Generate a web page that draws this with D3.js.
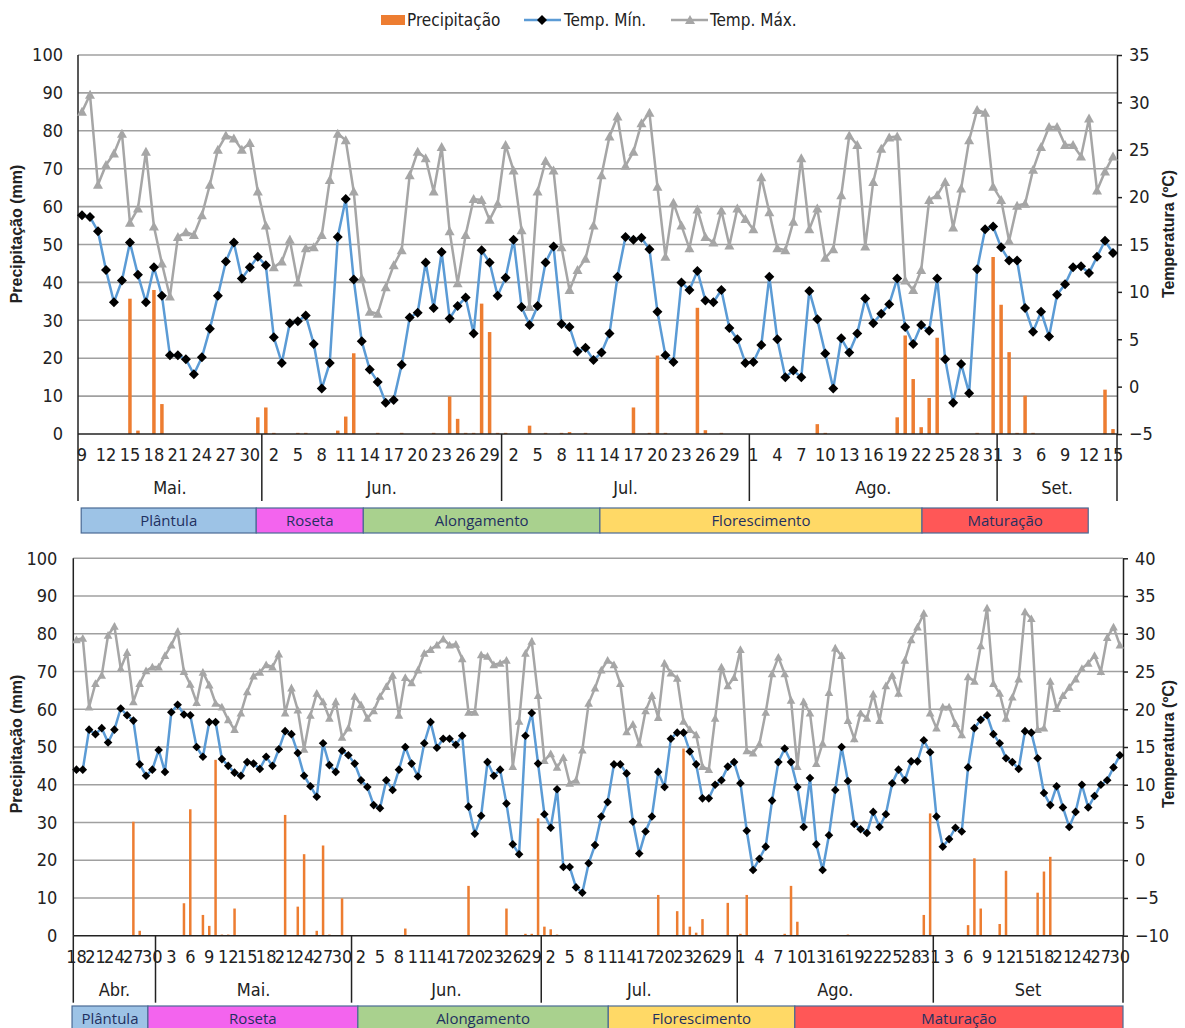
<!DOCTYPE html>
<html>
<head>
<meta charset="utf-8">
<script src="https://cdn.jsdelivr.net/npm/d3@7"></script>
<style>
body { margin: 0; background: #fff; }
svg { display: block; }
</style>
</head>
<body>
<script>
// TOP PANEL: 9 May - 15 Sep, one value per day
var topTmin = [18.1,17.9,16.4,12.3,8.9,11.2,15.2,11.8,8.9,12.6,
  9.6,3.3,3.3,2.9,1.3,3.1,6.1,9.6,13.2,15.2,
  11.4,12.6,13.7,12.8,5.2,2.5,6.7,6.9,7.5,4.5,
  -0.2,2.5,15.8,19.8,11.3,4.8,1.8,0.5,-1.7,-1.4,
  2.3,7.3,7.8,13.1,8.3,14.2,7.2,8.5,9.4,5.6,
  14.4,13.1,9.6,11.5,15.5,8.4,6.5,8.5,13.1,14.8,
  6.6,6.3,3.7,4.1,2.8,3.6,5.6,11.6,15.8,15.5,
  15.7,14.5,7.9,3.3,2.6,11.0,10.2,12.2,9.1,8.9,
  10.2,6.2,5.0,2.5,2.6,4.4,11.6,5.0,1.0,1.7,
  1.0,10.1,7.1,3.5,-0.2,5.1,3.6,5.6,9.3,6.7,
  7.7,8.7,11.4,6.3,4.5,6.5,5.9,11.4,2.9,-1.7,
  2.4,-0.7,12.4,16.6,16.9,14.7,13.3,13.3,8.3,5.8,
  7.9,5.3,9.7,10.8,12.6,12.7,12.0,13.7,15.4,14.1];
var topTmax = [29.0,30.8,21.3,23.4,24.6,26.7,17.3,18.8,24.8,16.9,
  13.0,9.5,15.8,16.3,16.0,18.1,21.3,25.0,26.5,26.2,
  25.0,25.7,20.6,17.0,12.6,13.2,15.5,11.0,14.6,14.7,
  16.0,21.8,26.7,26.0,20.6,11.4,7.9,7.7,10.5,12.8,
  14.4,22.3,24.8,24.1,20.6,25.3,16.4,10.9,16.0,19.8,
  19.7,17.6,19.3,25.5,22.8,16.5,8.4,20.6,23.8,22.8,
  14.7,10.2,12.3,13.5,17.0,22.3,26.4,28.5,23.3,24.8,
  27.8,28.9,21.1,13.7,19.4,17.0,14.6,18.7,15.8,15.2,
  18.6,14.9,18.8,17.7,16.6,22.1,18.4,14.6,14.4,17.4,
  24.1,16.6,18.8,13.6,14.5,20.2,26.5,25.5,14.8,21.6,
  25.1,26.3,26.4,11.2,10.2,12.3,19.7,20.2,21.6,16.8,
  20.9,26.0,29.2,28.9,21.1,19.7,15.4,19.1,19.3,22.9,
  25.3,27.4,27.4,25.5,25.5,24.3,28.3,20.7,22.7,24.3];
var topPrecip = [0,0,0,0,0,0,35.7,0.9,0,38.0,
  7.9,0,0,0,0,0,0,0,0,0,
  0,0,4.4,7.0,0.3,0,0,0.3,0.3,0,
  0,0,0.9,4.6,21.3,0,0,0.3,0,0,
  0.3,0,0,0,0.3,0,9.9,4.0,0.3,0.3,
  34.4,26.9,0.3,0.3,0,0,2.2,0,0.3,0,
  0.3,0.5,0,0.3,0,0,0,0,0,7.0,
  0,0.3,20.7,0.3,0,0,0,33.3,1.0,0,
  0.3,0,0,0,0,0,0,0,0,0,
  0,0,2.6,0.3,0,0,0,0,0,0,
  0,0,4.4,26.0,14.5,1.8,9.5,25.4,0,0,
  0,0,0.3,0,46.7,34.1,21.6,0.3,10.1,0.3,
  0,0,0,0,0,0,0,0,11.7,1.3];
var topTickLabels = ["9","12","15","18","21","24","27","30","2","5","8","11","14","17","20","23","26","29",
  "2","5","8","11","14","17","20","23","26","29","1","4","7","10","13","16","19","22","25","28","31",
  "3","6","9","12","15"];
var topMonthLabels = ["Mai.","Jun.","Jul.","Ago.","Set."];
var topMonthStarts = [0,23,53,84,115];
var topPhaseBounds = [0.4,22.3,35.7,65.3,105.6,126.4];

// BOTTOM PANEL: 18 Apr - 30 Sep
var botTmin = [12.0,12.0,17.3,16.7,17.5,15.6,17.3,20.1,19.2,18.5,
  12.7,11.2,12.0,14.6,11.7,19.6,20.6,19.3,19.2,15.0,
  13.7,18.3,18.3,13.4,12.5,11.6,11.2,13.0,12.8,12.1,
  13.7,12.5,14.7,17.1,16.7,14.2,11.2,9.8,8.4,15.5,
  12.6,11.7,14.5,13.9,12.8,10.6,9.7,7.3,6.9,10.6,
  9.3,12.0,15.0,12.8,11.1,15.5,18.3,14.9,16.1,16.1,
  15.3,16.5,7.1,3.5,5.9,13.0,11.2,12.0,7.5,2.1,
  0.8,16.5,19.5,12.8,6.1,4.3,9.4,-0.9,-0.9,-3.6,
  -4.3,-0.4,2.0,5.8,7.7,12.7,12.7,11.5,5.1,0.9,
  3.8,5.8,11.7,9.7,16.1,16.9,16.9,14.4,12.7,8.2,
  8.2,10.0,10.6,12.4,13.0,10.2,3.9,-1.3,0.2,1.8,
  7.9,13.0,14.8,13.0,9.7,4.4,10.9,2.1,-1.3,3.3,
  9.3,15.0,10.5,4.8,4.1,3.6,6.4,4.4,6.1,10.2,
  12.0,10.6,13.1,13.1,15.9,14.3,5.8,1.8,2.8,4.3,
  3.8,12.3,17.5,18.6,19.2,16.7,15.5,13.5,13.0,12.1,
  17.1,16.9,13.5,8.9,7.3,9.8,7.0,4.4,6.4,10.0,
  7.0,8.5,10.0,10.6,12.3,13.9];
var botTmax = [29.2,29.4,20.3,23.4,24.5,29.8,31.0,25.4,27.5,21.0,
  23.4,25.1,25.6,25.6,27.1,28.5,30.3,25.0,23.3,20.9,
  24.9,23.2,20.8,20.3,18.6,17.3,19.5,22.3,24.4,24.9,
  25.9,25.6,27.3,19.5,22.8,19.9,14.7,19.2,22.1,21.0,
  18.8,21.0,16.3,17.5,21.7,20.6,18.8,19.8,21.7,23.0,
  24.5,19.2,24.2,23.5,25.2,27.4,27.9,28.5,29.3,28.5,
  28.6,26.7,19.6,19.6,27.2,27.0,25.9,26.1,26.5,12.4,
  18.4,27.4,29.0,21.8,13.2,14.1,12.3,13.6,10.2,10.6,
  14.6,20.8,22.8,25.2,26.5,25.9,23.4,17.0,18.0,15.4,
  19.8,21.8,18.9,26.1,24.8,24.1,18.4,17.3,16.6,12.4,
  12.0,18.8,25.6,23.1,24.2,27.9,14.5,14.2,15.4,19.6,
  24.7,26.9,24.7,21.2,12.4,21.0,19.5,12.8,15.5,22.2,
  28.1,27.1,18.5,16.1,19.5,18.8,22.0,18.5,23.1,24.5,
  22.1,26.5,29.2,30.9,32.7,19.5,17.5,20.3,20.3,18.1,
  16.6,24.3,23.7,28.4,33.4,23.4,22.1,18.8,21.6,24.0,
  32.9,32.0,17.3,17.5,23.7,20.1,21.8,22.9,24.0,25.4,
  26.1,27.1,25.0,29.5,30.9,28.5];
var botPrecip = [0,0,0,0,0,0,0,0,0,30.2,
  1.3,0,0,0,0,0,0,8.6,33.5,0,
  5.5,2.6,46.6,0.3,0.3,7.2,0,0,0,0,
  0,0,0,32.0,0,7.7,21.6,0,1.3,23.9,
  0.3,0,9.9,0,0,0,0,0,0,0,
  0,0,1.9,0,0,0,0,0,0,0,
  0,0,13.2,0,0,0,0,0,7.2,0,
  0,0.5,0.5,31.1,2.4,1.7,0.3,0,0,0,
  0,0,0,0,0,0,0,0,0,0,
  0,0,10.8,0,0,6.5,49.6,2.4,0.8,4.4,
  0,0,0,8.7,0,0.5,10.8,0,0,0,
  0,0,0.5,13.2,3.7,0,0,0,0,0,
  0,0,0.3,0,0,0,0,0,0,0,
  0,0,0,0,5.5,32.4,0,0,0,0,
  0,2.8,20.5,7.2,0,0,3.1,17.2,0,0,
  0,0,11.4,17.0,20.9,0,0,0,0,0,
  0,0,0,0,0,0];
var botTickLabels = ["18","21","24","27","30","3","6","9","12","15","18","21","24","27","30",
  "2","5","8","11","14","17","20","23","26","29","2","5","8","11","14","17","20","23","26","29",
  "1","4","7","10","13","16","19","22","25","28","31","3","6","9","12","15","18","21","24","27","30"];
var botMonthLabels = ["Abr.","Mai.","Jun.","Jul.","Ago.","Set"];
var botMonthStarts = [0,13,44,74,105,136];
var botPhaseBounds = [-0.2,11.8,45.0,84.6,114.1,166];

var phaseNames = ["Plântula","Roseta","Alongamento","Florescimento","Maturação"];
var phaseColors = ["#9dc3e6","#f364ee","#a9d18e","#ffd966","#ff5757"];

var NARROW = "'Liberation Sans Narrow','Arial Narrow','DejaVu Sans Condensed',sans-serif";
var ARIAL = "'Liberation Sans',Arial,sans-serif";

//MAIN SVG
var svg = d3.select("body").append("svg").attr("width", 1185).attr("height", 1028).style("background", "#fff");

//LEGEND
var leg = svg.append("g").attr("font-family", NARROW).attr("font-size", 17).attr("fill", "#222");
leg.append("rect").attr("x", 381).attr("y", 15).attr("width", 24).attr("height", 10).attr("fill", "#ed7d31");
leg.append("text").attr("x", 407).attr("y", 26).text("Precipitação");
leg.append("line").attr("x1", 524).attr("x2", 561).attr("y1", 20).attr("y2", 20).attr("stroke", "#5b9bd5").attr("stroke-width", 2.5);
leg.append("path").attr("d", "M0,-5L5,0L0,5L-5,0Z").attr("transform", "translate(542,20)").attr("fill", "#000");
leg.append("text").attr("x", 564).attr("y", 26).text("Temp. Mín.");
leg.append("line").attr("x1", 671).attr("x2", 708).attr("y1", 20).attr("y2", 20).attr("stroke", "#a6a6a6").attr("stroke-width", 2.5);
leg.append("path").attr("d", "M0,-5L5,4L-5,4Z").attr("transform", "translate(690,20)").attr("fill", "#a6a6a6");
leg.append("text").attr("x", 710).attr("y", 26).text("Temp. Máx.");

function drawPanel(p) {
  var n = p.tmin.length;
  var g = svg.append("g");
  var xb = d3.scaleBand().domain(d3.range(n)).range([p.x0, p.x1]);
  var xl = d3.scaleLinear().domain([0, n]).range([p.x0, p.x1]);
  var cx = function (i) { return xb(i) + xb.bandwidth() / 2; };
  var yP = d3.scaleLinear().domain([0, 100]).range([p.yBot, p.yTop]);
  var yT = d3.scaleLinear().domain(p.tDomain).range([p.yBot, p.yTop]);

  //GRIDLINES
  g.selectAll("line.grid").data(yP.ticks(10).filter(function (v) { return v > 0; })).join("line")
    .attr("x1", p.x0).attr("x2", p.x1)
    .attr("y1", function (d) { return yP(d); }).attr("y2", function (d) { return yP(d); })
    .attr("stroke", "#a0a0a0").attr("stroke-width", 1.6);

  //PRECIPITATION BARS
  var bars = p.precip.map(function (v, i) { return { v: v, i: i }; }).filter(function (d) { return d.v > 0; });
  g.selectAll("rect.bar").data(bars).join("rect")
    .attr("x", function (d) { return cx(d.i) - p.barW / 2; }).attr("width", p.barW)
    .attr("y", function (d) { return yP(d.v); })
    .attr("height", function (d) { return p.yBot - yP(d.v); })
    .attr("fill", "#ed7d31");

  //AXES
  var la = g.append("g").attr("transform", "translate(" + p.x0 + ",0)")
    .call(d3.axisLeft(yP).ticks(10).tickSize(0).tickPadding(p.padL));
  la.select(".domain").remove();
  la.selectAll("text").attr("font-family", NARROW).attr("font-size", 18).attr("fill", "#222");
  g.append("line").attr("x1", p.x0).attr("x2", p.x0).attr("y1", p.yTop).attr("y2", p.yBot).attr("stroke", "#222").attr("stroke-width", 1.5);

  var ra = g.append("g").attr("transform", "translate(" + p.x1 + ",0)")
    .call(d3.axisRight(yT).tickValues(d3.range(p.tDomain[0], p.tDomain[1] + 1, 5)).tickSize(5).tickSizeOuter(0).tickPadding(7));
  ra.select(".domain").attr("stroke", "#222").attr("stroke-width", 1.5);
  ra.selectAll("line").attr("stroke", "#222").attr("stroke-width", 1.5);
  ra.selectAll("text").attr("font-family", NARROW).attr("font-size", 18).attr("fill", "#222");

  g.append("line").attr("x1", p.x0).attr("x2", p.x1).attr("y1", p.yBot).attr("y2", p.yBot).attr("stroke", "#222").attr("stroke-width", 1.5);

  //TEMPERATURE LINES
  var line = d3.line().x(function (d, i) { return cx(i); }).y(function (d) { return yT(d); });
  g.append("path").datum(p.tmax).attr("d", line).attr("fill", "none").attr("stroke", "#a6a6a6").attr("stroke-width", 2.5);
  g.append("path").datum(p.tmin).attr("d", line).attr("fill", "none").attr("stroke", "#5b9bd5").attr("stroke-width", 2.5);

  var m = p.mk;
  g.selectAll("path.tri").data(p.tmax).join("path")
    .attr("d", "M0," + (-m) + "L" + m + "," + (m * 0.8) + "L" + (-m) + "," + (m * 0.8) + "Z")
    .attr("transform", function (d, i) { return "translate(" + cx(i) + "," + yT(d) + ")"; })
    .attr("fill", "#a6a6a6");
  g.selectAll("path.dia").data(p.tmin).join("path")
    .attr("d", "M0," + (-m) + "L" + m + ",0L0," + m + "L" + (-m) + ",0Z")
    .attr("transform", function (d, i) { return "translate(" + cx(i) + "," + yT(d) + ")"; })
    .attr("fill", "#000");

  //DAY LABELS
  g.selectAll("text.day").data(p.ticks).join("text")
    .attr("x", function (d, k) { return cx(3 * k); }).attr("y", p.yBot + 27)
    .attr("text-anchor", "middle").attr("font-family", NARROW).attr("font-size", 18).attr("fill", "#222")
    .text(function (d) { return d; });

  //MONTH LABELS AND SEPARATORS
  var bounds = p.monthStarts.concat([n]);
  g.selectAll("line.sep").data(bounds).join("line")
    .attr("x1", function (d) { return xl(d); }).attr("x2", function (d) { return xl(d); })
    .attr("y1", p.yBot).attr("y2", p.yBot + 67)
    .attr("stroke", "#222").attr("stroke-width", 1.5);
  g.selectAll("text.month").data(p.months).join("text")
    .attr("x", function (d, k) { return xl((bounds[k] + bounds[k + 1]) / 2); }).attr("y", p.yBot + 60)
    .attr("text-anchor", "middle").attr("font-family", NARROW).attr("font-size", 18).attr("fill", "#222")
    .text(function (d) { return d; });

  //PHASE BAR
  var ph = g.selectAll("g.phase").data(phaseNames).join("g");
  ph.append("rect")
    .attr("x", function (d, k) { return xl(p.phases[k]); })
    .attr("width", function (d, k) { return xl(p.phases[k + 1]) - xl(p.phases[k]); })
    .attr("y", p.phaseY).attr("height", 25)
    .attr("fill", function (d, k) { return phaseColors[k]; })
    .attr("stroke", "#4a6a94").attr("stroke-width", 1.2);
  ph.append("text")
    .attr("x", function (d, k) { return xl((p.phases[k] + p.phases[k + 1]) / 2); })
    .attr("y", p.phaseY + 18)
    .attr("text-anchor", "middle").attr("font-family", "'Open Sans',sans-serif").attr("font-size", 15).attr("fill", "#1f3060")
    .text(function (d) { return d; });

  //AXIS TITLES
  g.append("text").attr("transform", "translate(22," + p.titleY + ") rotate(-90)")
    .attr("text-anchor", "middle").attr("font-family", ARIAL).attr("font-weight", "bold").attr("font-size", 16).attr("fill", "#222")
    .text("Precipitação (mm)");
  g.append("text").attr("transform", "translate(1174," + p.titleY + ") rotate(-90)")
    .attr("text-anchor", "middle").attr("font-family", ARIAL).attr("font-weight", "bold").attr("font-size", 16).attr("fill", "#222")
    .text("Temperatura (ºC)");
}

drawPanel({ tmin: topTmin, tmax: topTmax, precip: topPrecip, ticks: topTickLabels,
  months: topMonthLabels, monthStarts: topMonthStarts, phases: topPhaseBounds,
  x0: 78, x1: 1117, yTop: 55, yBot: 434, tDomain: [-5, 35], padL: 15,
  barW: 3.5, mk: 5, phaseY: 508, titleY: 234 });

drawPanel({ tmin: botTmin, tmax: botTmax, precip: botPrecip, ticks: botTickLabels,
  months: botMonthLabels, monthStarts: botMonthStarts, phases: botPhaseBounds,
  x0: 73.3, x1: 1123, yTop: 558.3, yBot: 935.7, tDomain: [-10, 40], padL: 16,
  barW: 2.5, mk: 4.3, phaseY: 1006, titleY: 744 });
</script>
</body>
</html>
